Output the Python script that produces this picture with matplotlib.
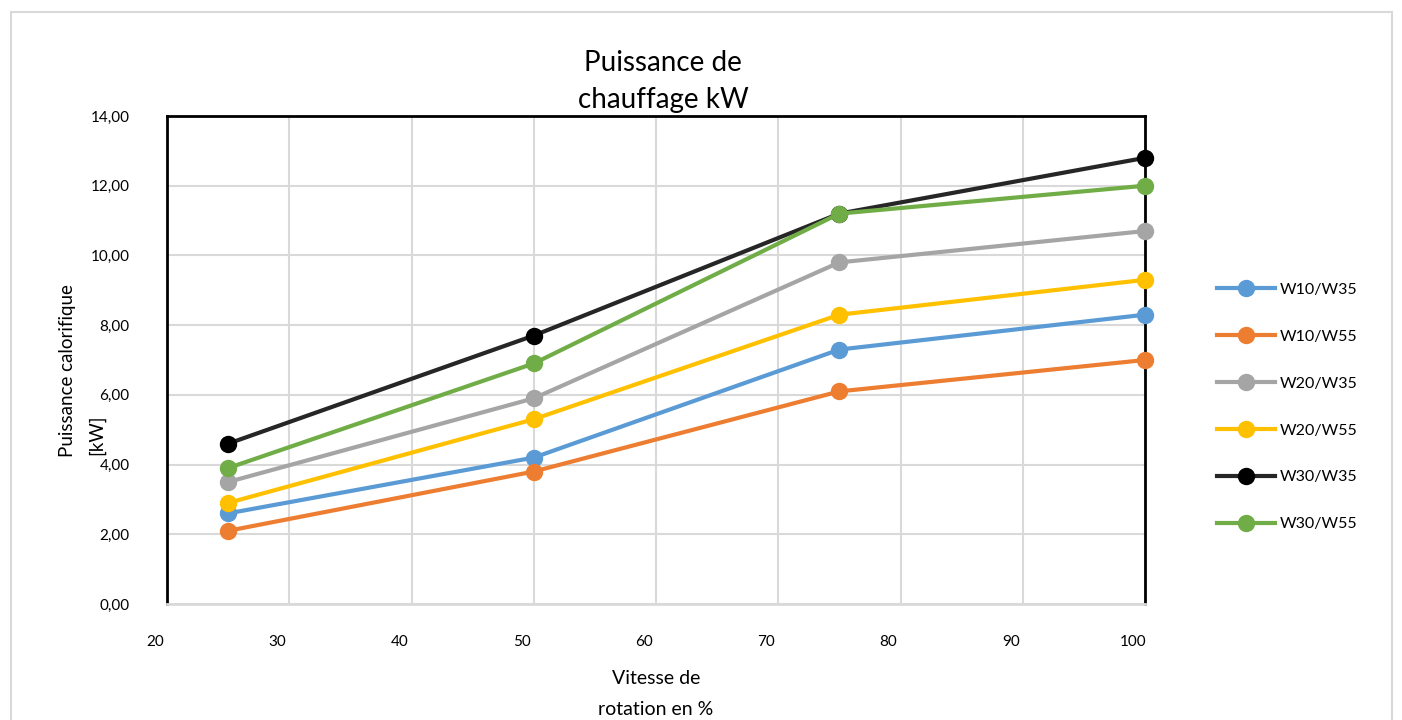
import matplotlib.pyplot as plt
import matplotlib.transforms as mtrans
from matplotlib.patches import Rectangle
from matplotlib.ticker import FuncFormatter

plt.rcParams['font.family'] = ['Lato', 'DejaVu Sans']

# vitesse de rotation en %
vitesse = [25, 50, 75, 100]

# puissance de chauffage kW
w10_w35 = [2.6, 4.2, 7.3, 8.3]
w10_w55 = [2.1, 3.8, 6.1, 7.0]
w20_w35 = [3.5, 5.9, 9.8, 10.7]
w20_w55 = [2.9, 5.3, 8.3, 9.3]
w30_w35 = [4.6, 7.7, 11.2, 12.8]
w30_w55 = [3.9, 6.9, 11.2, 12.0]

labels = ['W10/W35', 'W10/W55', 'W20/W35', 'W20/W55', 'W30/W35', 'W30/W55']
series = [w10_w35, w10_w55, w20_w35, w20_w55, w30_w35, w30_w55]
line_colors = ['#5B9BD5', '#ED7D31', '#A5A5A5', '#FFC000', '#262626', '#70AD47']
marker_colors = ['#5B9BD5', '#ED7D31', '#A5A5A5', '#FFC000', '#000000', '#70AD47']

fig = plt.figure(figsize=(14.02, 7.2), dpi=100)
ax = fig.add_axes([167 / 1402, 1 - 604 / 720, (1145 - 167) / 1402, (604 - 116) / 720])

# light frame around the chart
fig.patches.append(Rectangle((11 / 1402, -0.01), 1381 / 1402, 1 - 12 / 720 + 0.01,
                             transform=fig.transFigure, fill=False,
                             edgecolor='#d9d9d9', linewidth=1.5))

for vals, lab, lc, mc in zip(series, labels, line_colors, marker_colors):
    ax.plot(vitesse, vals, color=lc, linewidth=3, marker='o', markersize=11.5,
            markerfacecolor=mc, markeredgecolor=mc, label=lab, zorder=3,
            clip_on=False)

ax.set_xlim(20, 100)
ax.set_ylim(0, 14)
ax.set_xticks(range(20, 101, 10))
ax.set_yticks(range(0, 15, 2))
ax.yaxis.set_major_formatter(FuncFormatter(lambda v, p: f'{v:.2f}'.replace('.', ',')))
ax.grid(True, color='#d9d9d9', linewidth=1.5)
ax.set_axisbelow(True)

for s in ['left', 'top', 'right']:
    ax.spines[s].set_color('black')
    ax.spines[s].set_linewidth(2)
ax.spines['bottom'].set_color('#d9d9d9')
ax.spines['bottom'].set_linewidth(2)

ax.tick_params(axis='both', length=0, labelsize=11, colors='black')
ax.tick_params(axis='x', pad=22)
ax.tick_params(axis='y', pad=27)
offset = mtrans.ScaledTranslation(-0.12, 0, fig.dpi_scale_trans)
for t in ax.get_xticklabels():
    t.set_transform(t.get_transform() + offset)

fig.text(663 / 1402, 1 - 81.5 / 720, 'Puissance de\nchauffage kW', ha='center', va='center',
         fontsize=20, linespacing=1.48)
# y axis title, two lines placed separately (second line sits between tick labels)
fig.text(67 / 1402, 1 - 457 / 720, 'Puissance calorifique', ha='center', va='bottom',
         rotation=90, fontsize=13.5)
fig.text(97 / 1402, 1 - 455 / 720, '[kW]', ha='center', va='bottom',
         rotation=90, fontsize=13.5)
fig.text(656 / 1402, 1 - 694 / 720, 'Vitesse de\nrotation en %', ha='center', va='center',
         fontsize=14, linespacing=2.07)

fig.legend(loc='center left', bbox_to_anchor=(1203 / 1402, 1 - 407 / 720), frameon=False,
           fontsize=11.5, handlelength=3.6, handletextpad=0.3, labelspacing=2.05)

fig.savefig('out.png', dpi=100)
